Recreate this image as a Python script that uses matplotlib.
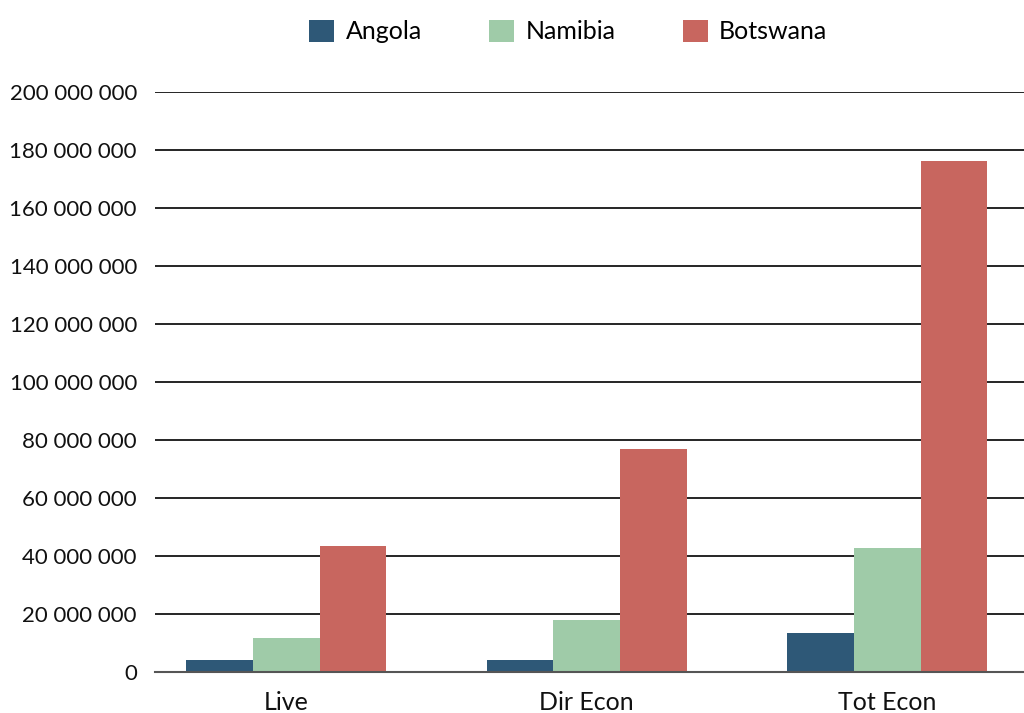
import numpy as np
import matplotlib.pyplot as plt
from matplotlib.ticker import FuncFormatter

categories = ['Live', 'Dir Econ', 'Tot Econ']
angola = [4.0e6, 4.0e6, 13.4e6]
namibia = [11.6e6, 17.8e6, 42.8e6]
botswana = [43.3e6, 76.9e6, 176.3e6]
y_ticks = np.arange(0, 200e6 + 1, 20e6)

colors = {'Angola': '#2E5877', 'Namibia': '#9FCBA8', 'Botswana': '#C8665F'}

plt.rcParams['font.family'] = ['Lato', 'DejaVu Sans']

fig = plt.figure(figsize=(10.24, 7.13), dpi=100)
ax = fig.add_axes([155 / 1024, 1 - 672 / 713, 1 - 155 / 1024, (672 - 92) / 713])

x = np.arange(len(categories))
w = 0.222
for i, (name, vals) in enumerate([('Angola', angola), ('Namibia', namibia), ('Botswana', botswana)]):
    ax.bar(x + (i - 1) * w, vals, width=w, color=colors[name], label=name, zorder=3)

ax.set_ylim(0, 200e6)
ax.set_xlim(-0.437, 2.455)
ax.set_yticks(y_ticks)
ax.yaxis.set_major_formatter(FuncFormatter(lambda v, p: f'{int(v):,}'.replace(',', ' ')))
ax.set_xticks(x)
ax.set_xticklabels(categories)

ax.grid(axis='y', color='black', linewidth=1.2, zorder=0)
ax.grid(axis='x', visible=False)
for s in ['top', 'right', 'left']:
    ax.spines[s].set_visible(False)
ax.spines['bottom'].set_color('#555555')
ax.spines['bottom'].set_linewidth(1.5)
ax.spines['bottom'].set_zorder(4)

ax.tick_params(axis='y', length=0, labelsize=16, pad=13, colors='#111111')
ax.tick_params(axis='x', length=0, labelsize=18, pad=14, colors='#111111')

leg = fig.legend(loc='upper center', bbox_to_anchor=(0.555, 1.004), ncol=3, frameon=False,
                 fontsize=18, handlelength=1.0, handleheight=1.0, columnspacing=2.7, handletextpad=0.45)

fig.savefig('out.png', dpi=100)
